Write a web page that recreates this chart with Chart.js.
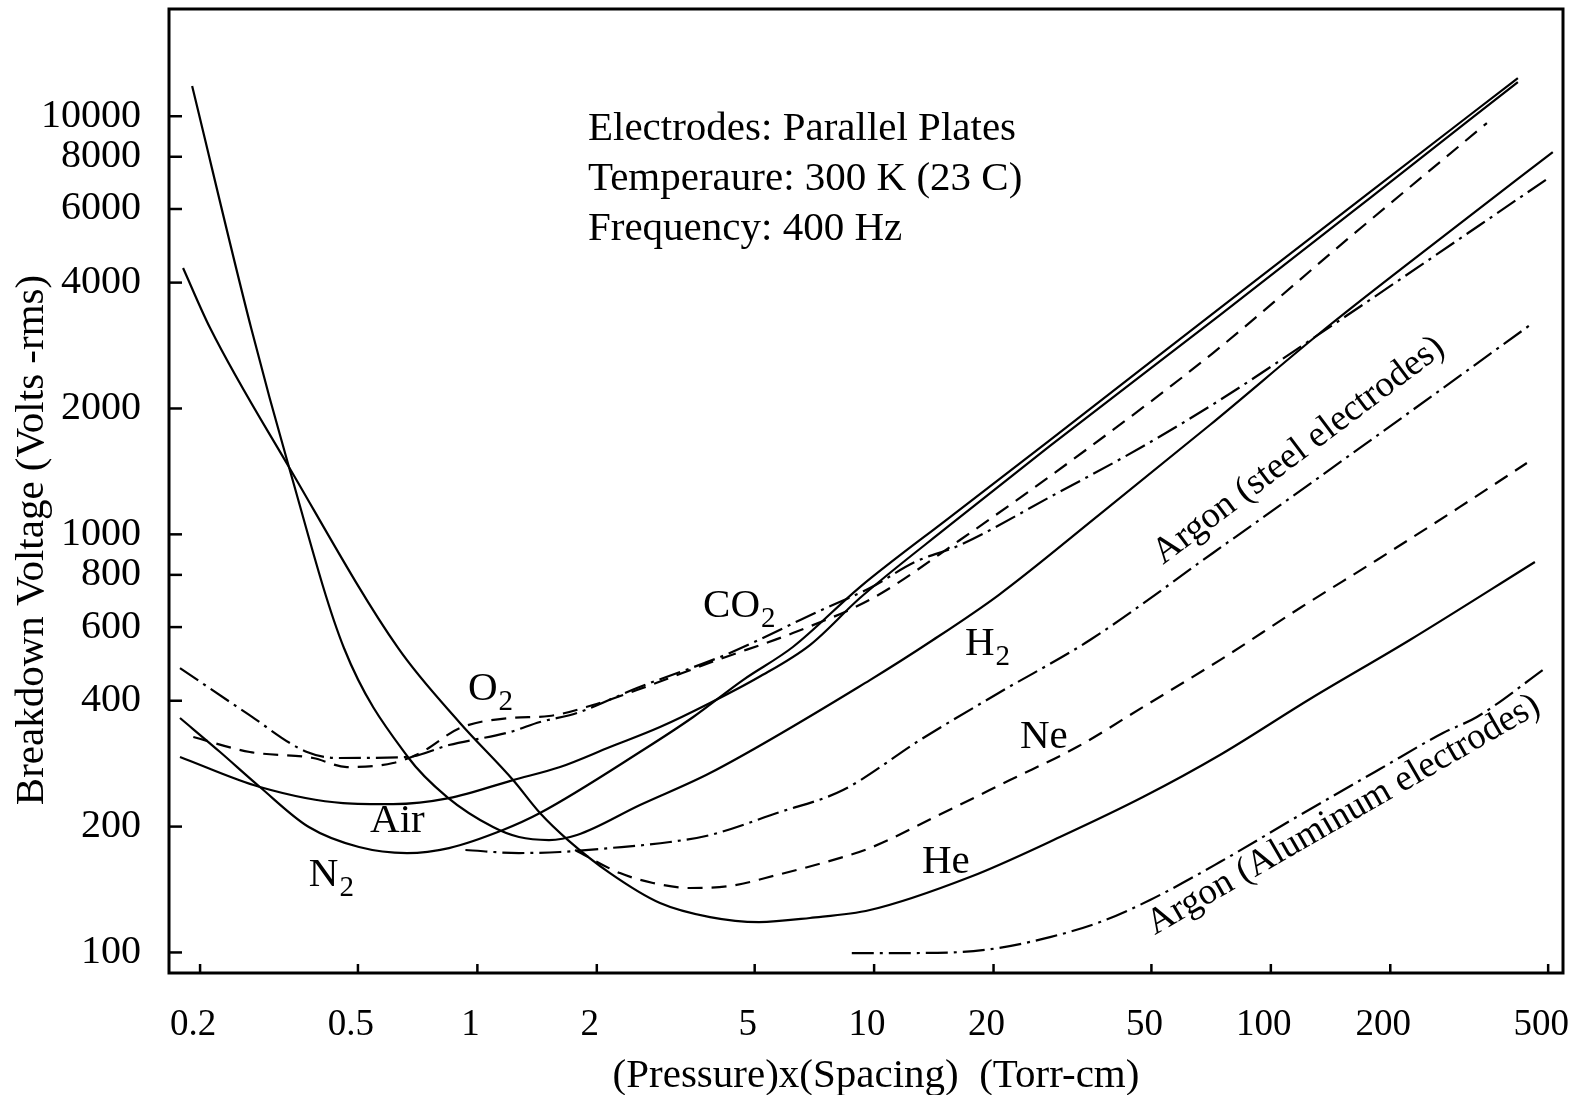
<!DOCTYPE html>
<html>
<head>
<meta charset="utf-8">
<script src="https://cdn.jsdelivr.net/npm/chart.js@4.4.1/dist/chart.umd.min.js"></script>
<style>
html, body { margin: 0; padding: 0; background: #fff; }
#paschen { display: block; }
</style>
</head>
<body>
<canvas id="paschen" width="1570" height="1095"></canvas>
<script>
// =============== tick labels
const pdTicks = [0.2, 0.5, 1, 2, 5, 10, 20, 50, 100, 200, 500];
const voltTicks = [100, 200, 400, 600, 800, 1000, 2000, 4000, 6000, 8000, 10000];

// =============== curves (pd in Torr-cm, breakdown voltage in V rms)
const h2Pd = [0.191, 0.269, 0.335, 0.461, 0.668, 0.839, 1.095, 1.273, 1.515, 1.783, 2.57, 3.858, 9.76, 14.07, 20.6, 36.9, 70.2, 140.8, 281, 513.6];
const h2V = [11810, 3115, 1449, 534.8, 293.4, 235.3, 199.5, 188.8, 185.7, 190.9, 225.2, 268.6, 448.2, 558.8, 715.9, 1113, 1826, 3167, 5285, 8212];

const hePd = [0.1812, 0.212, 0.335, 0.631, 0.904, 1.23, 1.438, 1.692, 2.159, 2.886, 3.858, 5.125, 6.89, 9.76, 17.44, 29.4, 47.6, 74.4, 125.5, 224, 463];
const heV = [4335, 3115, 1449, 534.8, 353.8, 258.4, 215.5, 185.7, 154.8, 131.3, 121.5, 118.2, 120.9, 126.3, 151.5, 188.8, 235.3, 296.6, 403.8, 558.8, 858.8];

const n2Pd = [0.178, 0.2246, 0.283, 0.376, 0.503, 0.665, 0.848, 1.16, 1.438, 2.616, 3.5, 4.67, 6.24, 9.21, 15.54, 27.75, 74.4, 177.7, 419.4];
const n2V = [363.7, 301.6, 248.7, 199.5, 178.7, 172.9, 177.7, 196.3, 215.5, 304.9, 365.7, 448.2, 537.7, 748, 1100, 1681, 3478, 6588, 12340];

const airPd = [0.178, 0.283, 0.4586, 0.613, 0.848, 1.23, 1.616, 2.159, 2.886, 3.858, 5.125, 6.89, 9.21, 15.54, 27.75, 74.4, 177.7, 419.4];
const airV = [293.4, 248.7, 227.7, 226.4, 234.0, 258.4, 277.6, 309.9, 346.0, 395.0, 455.7, 543.6, 704.2, 1053, 1627, 3346, 6374, 12074];

const o2Pd = [0.1923, 0.267, 0.3853, 0.469, 0.613, 0.7171, 0.904, 1.209, 1.515, 1.956, 2.525, 4.018, 6.24, 9.93, 16.46, 35.0, 71.45, 157.2, 350.4];
const o2V = [327.5, 301.6, 291.8, 277.6, 283.8, 299.9, 344.1, 363.7, 367.7, 390.6, 424.3, 500.3, 580.6, 704.2, 969.4, 1618, 2714, 5112, 9632];

const co2Pd = [0.178, 0.2597, 0.372, 0.448, 0.665, 0.848, 1.209, 1.438, 1.783, 2.525, 4.33, 7.18, 9.76, 12.68, 16.46, 27.75, 46.8, 74.4, 143.2, 336.4, 505];
const co2V = [478.8, 375.8, 301.6, 291.8, 293.4, 313.4, 336.7, 355.7, 373.8, 429.0, 520.3, 651.9, 743.9, 858.8, 942.6, 1228, 1609, 2095, 3167, 5494, 7154];

const nePd = [1.763, 2.288, 2.771, 3.435, 4.33, 5.69, 8.35, 9.76, 14.91, 22.0, 32.45, 47.6, 74.4, 118.4, 185.1, 299.6, 441.9];
const neV = [175.8, 154.8, 146.6, 142.6, 144.2, 153.2, 169.1, 177.7, 215.5, 258.4, 309.9, 386.3, 500.3, 666.4, 868.4, 1163, 1481];

const arSteelPd = [0.933, 1.273, 1.616, 2.159, 3.058, 3.858, 5.69, 8.35, 13.05, 20.6, 35.0, 71.45, 167.7, 457.6];
const arSteelV = [175.8, 172.9, 173.9, 177.7, 183.7, 190.9, 215.5, 244.6, 322.2, 417.4, 558.8, 902.4, 1609, 3202];

const arAlPd = [8.785, 11.62, 16.46, 20.6, 27.75, 37.1, 49.6, 74.4, 118.4, 188.3, 271.5, 330.6, 496.3];
const arAlV = [99.67, 99.67, 100.2, 102.5, 108.8, 118.2, 133.5, 164.5, 213.1, 274.6, 334.8, 365.7, 481.5];

// =============== text placed on the plot (anchored in pd / volts)
const gasLabels = [
    { text: 'CO', sub: '2', pd: 3.705, v: 634 },
    { text: 'O', sub: '2', pd: 0.947, v: 401.6 },
    { text: 'Air', sub: '', pd: 0.5365, v: 194.1 },
    { text: 'N', sub: '2', pd: 0.376, v: 144.2 },
    { text: 'H', sub: '2', pd: 16.94, v: 514.6 },
    { text: 'Ne', sub: '', pd: 23.32, v: 308.3 },
    { text: 'He', sub: '', pd: 13.2, v: 154.8 }
];
const slantLabels = [
    { text: 'Argon (steel electrodes)', pd: 53.5, v: 844.6, angle: -37 },
    { text: 'Argon (Aluminum electrodes)', pd: 51.0, v: 110.0, angle: -30 }
];
const infoLines = ['Electrodes: Parallel Plates', 'Temperaure: 300 K (23 C)', 'Frequency: 400 Hz'];
const infoPd = 1.9;
const infoV = [8772, 6661, 5056];

const serif = "'Liberation Serif', 'DejaVu Serif', serif";
const SOLID = [];
const DASHED = [15, 9];
const DASH_DOT = [22, 6, 3, 6];

function curve(name, xs, ys, dash) {
    return {
        label: name,
        data: xs.map((x, i) => ({ x: x, y: ys[i] })),
        borderColor: '#000',
        borderWidth: 2.2,
        borderDash: dash,
        pointRadius: 0,
        fill: false,
        cubicInterpolationMode: 'monotone'
    };
}

// keep the plot box where the original one sits
function noPad(s) {
    s.paddingTop = 0;
    s.paddingBottom = 0;
    s.paddingLeft = 0;
    s.paddingRight = 0;
}

const paper = {
    id: 'paper',
    afterDraw(chart) {
        const ctx = chart.ctx;
        const a = chart.chartArea;
        const xs = chart.scales.x;
        const ys = chart.scales.y;
        ctx.save();
        ctx.setLineDash([]);
        ctx.strokeStyle = '#000';
        ctx.fillStyle = '#000';

        // frame
        ctx.lineWidth = 3;
        ctx.strokeRect(a.left, a.top, a.right - a.left, a.bottom - a.top);

        // inward tick marks
        ctx.lineWidth = 2.5;
        voltTicks.forEach(v => {
            const y = ys.getPixelForValue(v);
            ctx.beginPath();
            ctx.moveTo(a.left, y);
            ctx.lineTo(a.left + 13, y);
            ctx.stroke();
        });
        pdTicks.forEach(p => {
            const x = xs.getPixelForValue(p);
            ctx.beginPath();
            ctx.moveTo(x, a.bottom);
            ctx.lineTo(x, a.bottom - 9);
            ctx.stroke();
        });

        // info block
        ctx.font = '41px ' + serif;
        ctx.textAlign = 'left';
        ctx.textBaseline = 'alphabetic';
        infoLines.forEach((t, i) => {
            ctx.fillText(t, xs.getPixelForValue(infoPd), ys.getPixelForValue(infoV[i]));
        });

        // gas names
        gasLabels.forEach(l => {
            const x = xs.getPixelForValue(l.pd);
            const y = ys.getPixelForValue(l.v);
            ctx.font = '41px ' + serif;
            ctx.fillText(l.text, x, y);
            if (l.sub) {
                const w = ctx.measureText(l.text).width;
                ctx.font = '29px ' + serif;
                ctx.fillText(l.sub, x + w + 1, y + 10);
            }
        });

        // slanted argon labels
        ctx.font = '37px ' + serif;
        slantLabels.forEach(l => {
            ctx.save();
            ctx.translate(xs.getPixelForValue(l.pd), ys.getPixelForValue(l.v));
            ctx.rotate(l.angle * Math.PI / 180);
            ctx.fillText(l.text, 0, 0);
            ctx.restore();
        });

        // axis titles
        ctx.font = '41px ' + serif;
        ctx.textAlign = 'center';
        ctx.textBaseline = 'middle';
        ctx.fillText('(Pressure)x(Spacing)  (Torr-cm)', 876, 1076);
        ctx.save();
        ctx.translate(32, 540);
        ctx.rotate(-Math.PI / 2);
        ctx.fillText('Breakdown Voltage (Volts -rms)', 0, 0);
        ctx.restore();

        ctx.restore();
    }
};

new Chart(document.getElementById('paschen'), {
    type: 'line',
    data: {
        datasets: [
            curve('H2', h2Pd, h2V, SOLID),
            curve('He', hePd, heV, SOLID),
            curve('N2', n2Pd, n2V, SOLID),
            curve('Air', airPd, airV, SOLID),
            curve('O2', o2Pd, o2V, DASHED),
            curve('CO2', co2Pd, co2V, DASH_DOT),
            curve('Ne', nePd, neV, DASHED),
            curve('Argon (steel electrodes)', arSteelPd, arSteelV, DASH_DOT),
            curve('Argon (Aluminum electrodes)', arAlPd, arAlV, DASH_DOT)
        ]
    },
    options: {
        responsive: false,
        devicePixelRatio: 1,
        animation: false,
        layout: { padding: { top: 9, right: 7, left: 0, bottom: 0 } },
        plugins: { legend: { display: false }, tooltip: { enabled: false } },
        scales: {
            x: {
                type: 'logarithmic',
                min: 0.167,
                max: 545,
                afterBuildTicks: s => { s.ticks = pdTicks.map(v => ({ value: v })); },
                afterFit: s => { s.height = 122; noPad(s); },
                grid: { display: false, drawTicks: false },
                border: { display: false },
                ticks: {
                    color: '#000',
                    font: { family: serif, size: 37 },
                    padding: 30,
                    labelOffset: -7,
                    autoSkip: false,
                    maxRotation: 0,
                    callback: v => String(v)
                }
            },
            y: {
                type: 'logarithmic',
                min: 89.3,
                max: 18050,
                afterBuildTicks: s => { s.ticks = voltTicks.map(v => ({ value: v })); },
                afterFit: s => { s.width = 169; noPad(s); },
                grid: { display: false, drawTicks: false },
                border: { display: false },
                ticks: {
                    color: '#000',
                    font: { family: serif, size: 40 },
                    padding: 28,
                    autoSkip: false,
                    callback: v => String(v)
                }
            }
        }
    },
    plugins: [paper]
});
</script>
</body>
</html>
